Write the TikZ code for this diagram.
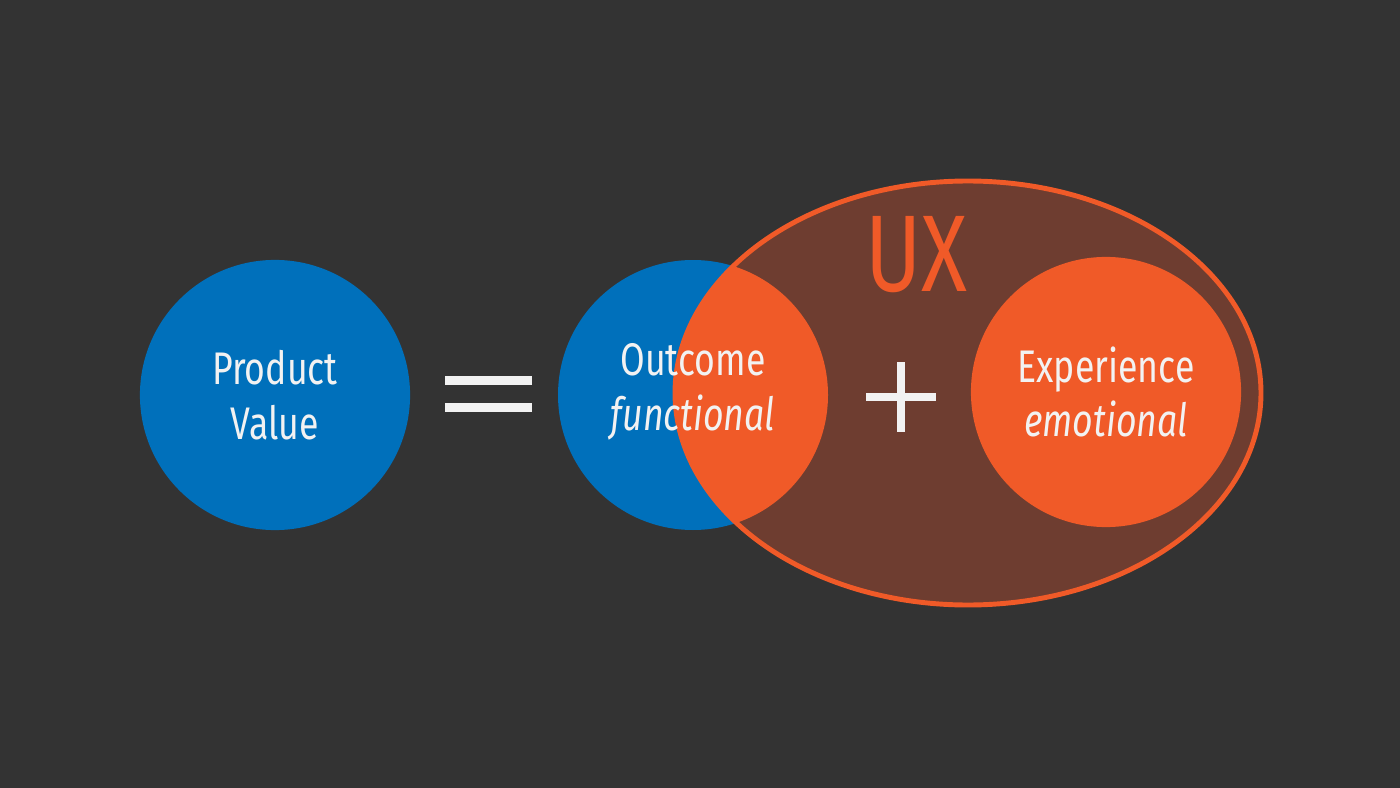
\documentclass[tikz,border=0pt]{standalone}
\usepackage{fontspec}
\setmainfont{Fira Sans}[FakeStretch=0.78]
\definecolor{bgdark}{HTML}{333333}
\definecolor{valblue}{HTML}{0070BB}
\definecolor{uxorange}{HTML}{F05A28}
\definecolor{uxbrown}{HTML}{6E3D30}
\definecolor{txtwhite}{HTML}{F2F2F2}
\tikzset{
  bubble/.style={circle, minimum size=2.7cm, inner sep=0pt, align=center,
    text=txtwhite, font=\fontsize{13}{15.5}\selectfont},
  bar/.style={fill=txtwhite}
}
\begin{document}
\begin{tikzpicture}[x=0.01cm,y=-0.01cm]
  \fill[bgdark] (0,0) rectangle (1400,788);
  \useasboundingbox (0,0) rectangle (1400,788);

  % left side
  \node[bubble, fill=valblue] (value) at (275,395) {Product\\Value};
  \fill[bar] (445,376) rectangle (532,385);
  \fill[bar] (445,403) rectangle (532,412);

  % outcome circle and UX ellipse
  \fill[valblue] (693,395) circle (135);
  \fill[uxbrown] (968,393) ellipse (293 and 212);
  \begin{scope}
    \clip (968,393) ellipse (293 and 212);
    \fill[uxorange] (693,395) circle (135);
  \end{scope}
  \draw[uxorange, line width=1.4pt] (968,393) ellipse (293 and 212);
  \node[bubble] (outcome) at (693,392) {Outcome\\\itshape functional};

  % plus sign
  \fill[bar] (866,393) rectangle (936,401);
  \fill[bar] (897,362) rectangle (905,432);

  \node[bubble, fill=uxorange] (experience) at (1106,392) {Experience\\\itshape emotional};
  \node[text=uxorange, font=\fontsize{31}{31}\selectfont] (ux) at (916,255) {UX};
\end{tikzpicture}
\end{document}
